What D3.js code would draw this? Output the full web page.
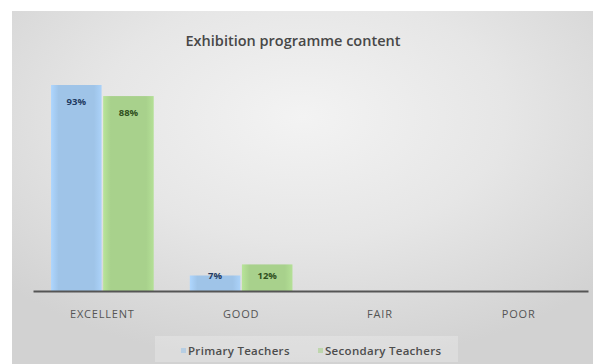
<!DOCTYPE html>
<html>
<head>
<meta charset="utf-8">
<script src="https://cdn.jsdelivr.net/npm/d3@7"></script>
<style>
  html, body { margin: 0; padding: 0; background: #ffffff; }
  svg { display: block; }
</style>
</head>
<body>
<svg id="chart" width="604" height="364"></svg>
<script>
// Survey ratings of the exhibition programme content
const categories = ["EXCELLENT", "GOOD", "FAIR", "POOR"];
const seriesNames = ["Primary Teachers", "Secondary Teachers"];
const primaryValues = [93, 7, 0, 0];
const secondaryValues = [88, 12, 0, 0];
const seriesColors = ["#9fc4e8", "#a8d18c"];
const labelColors = ["#1f3b63", "#2f4f1d"];

const svg = d3.select("#chart");
const W = 604, H = 364;

// Panel background: gray with a brighter centre
const defs = svg.append("defs");
const bg = defs.append("radialGradient").attr("id", "bgGrad")
  .attr("cx", "50%").attr("cy", "30%").attr("r", "70%");
bg.append("stop").attr("offset", "0%").attr("stop-color", "#f3f3f3");
bg.append("stop").attr("offset", "50%").attr("stop-color", "#e6e6e6");
bg.append("stop").attr("offset", "100%").attr("stop-color", "#d2d2d2");

seriesColors.forEach((c, i) => {
  const g = defs.append("linearGradient").attr("id", "barGrad" + i)
    .attr("x1", "0%").attr("x2", "100%").attr("y1", "0%").attr("y2", "0%");
  const base = d3.color(c);
  g.append("stop").attr("offset", "0%").attr("stop-color", base.brighter(0.25));
  g.append("stop").attr("offset", "15%").attr("stop-color", c);
  g.append("stop").attr("offset", "85%").attr("stop-color", c);
  g.append("stop").attr("offset", "100%").attr("stop-color", base.brighter(0.2));
});

svg.append("rect")
  .attr("x", 12).attr("y", 11).attr("width", 581).attr("height", H - 11)
  .attr("fill", "url(#bgGrad)");

// Scales
const plotLeft = 33, plotRight = 588, baseline = 291;
const x0 = d3.scaleBand().domain(categories).range([plotLeft, plotRight])
  .paddingInner(0.26).paddingOuter(0.13);
const x1 = d3.scaleBand().domain(seriesNames).range([0, x0.bandwidth()]).paddingInner(0.03);
const y = d3.scaleLinear().domain([0, 100]).range([baseline, baseline - 221.5]);

const rows = categories.map((c, i) => ({
  category: c,
  values: [
    { series: seriesNames[0], idx: 0, v: primaryValues[i] },
    { series: seriesNames[1], idx: 1, v: secondaryValues[i] }
  ]
}));

// Title
svg.append("text")
  .attr("x", 293).attr("y", 46)
  .attr("text-anchor", "middle")
  .attr("font-family", "'Open Sans', sans-serif")
  .attr("font-weight", 600)
  .attr("font-size", 14.5)
  .attr("fill", "#474747")
  .text("Exhibition programme content");

// Bars
const groups = svg.append("g").selectAll("g").data(rows).join("g")
  .attr("transform", d => `translate(${x0(d.category)},0)`);

groups.selectAll("rect")
  .data(d => d.values.filter(e => e.v > 0))
  .join("rect")
  .attr("x", d => x1(d.series))
  .attr("width", x1.bandwidth())
  .attr("y", d => y(d.v))
  .attr("height", d => baseline - y(d.v))
  .attr("fill", d => `url(#barGrad${d.idx})`);

// Value labels inside the bar tops
groups.selectAll("text")
  .data(d => d.values.filter(e => e.v > 0))
  .join("text")
  .attr("x", d => x1(d.series) + x1.bandwidth() / 2)
  .attr("y", d => Math.min(y(d.v) + 20, baseline - 12))
  .attr("text-anchor", "middle")
  .attr("font-family", "'Open Sans', sans-serif")
  .attr("font-weight", 700)
  .attr("font-size", 9.5)
  .attr("fill", d => labelColors[d.idx])
  .text(d => d.v + "%");

// Category axis
const xAxis = svg.append("g")
  .attr("transform", `translate(0,${baseline})`)
  .call(d3.axisBottom(x0).tickSize(0).tickPadding(0));
xAxis.select(".domain").attr("stroke", "#555555").attr("stroke-width", 2);
xAxis.selectAll(".tick text")
  .attr("dy", 0)
  .attr("y", 27)
  .attr("font-family", "'Open Sans', sans-serif")
  .attr("font-size", 11)
  .attr("letter-spacing", 0.8)
  .attr("fill", "#555555");

// Legend
const legend = svg.append("g");
legend.append("rect")
  .attr("x", 155).attr("y", 336).attr("width", 303).attr("height", 26)
  .attr("fill", "#f2f2f2").attr("opacity", 0.35);
const legendX = [181, 318];
seriesNames.forEach((name, i) => {
  legend.append("rect")
    .attr("x", legendX[i]).attr("y", 348).attr("width", 5).attr("height", 5)
    .attr("fill", seriesColors[i]).attr("opacity", 0.6);
  legend.append("text")
    .attr("x", legendX[i] + 7).attr("y", 355)
    .attr("font-family", "'Open Sans', sans-serif")
    .attr("font-weight", 600)
    .attr("font-size", 11.5)
    .attr("letter-spacing", 0.3)
    .attr("fill", "#4d4d4d")
    .text(name);
});
</script>
</body>
</html>
